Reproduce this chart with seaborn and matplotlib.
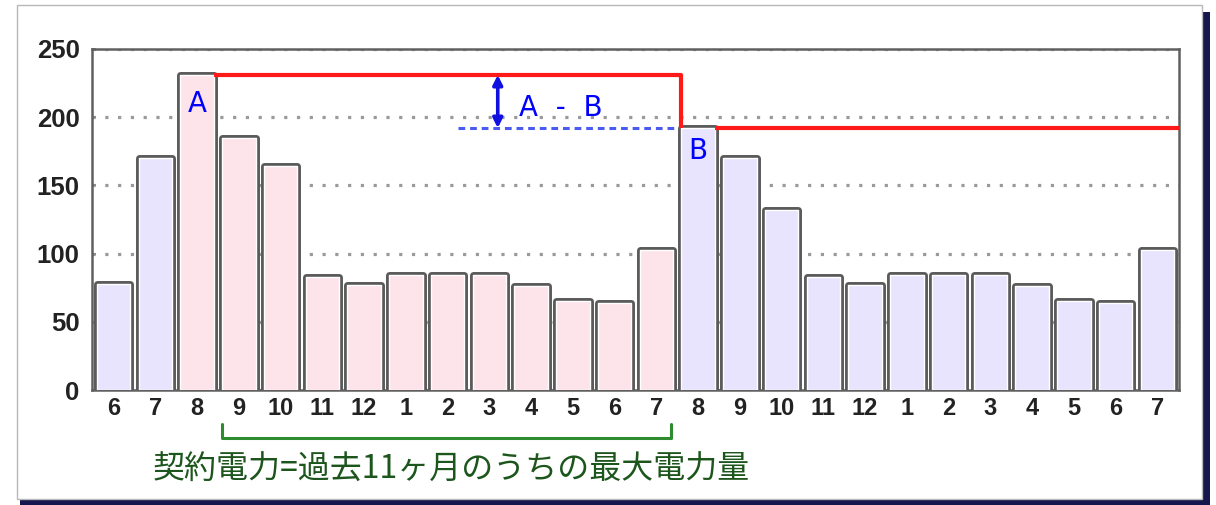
import numpy as np
import pandas as pd
import matplotlib
matplotlib.use("Agg")
import matplotlib.pyplot as plt
import matplotlib.patheffects as pe
from matplotlib.patches import Rectangle
import seaborn as sns

# ---- data ----
months = ["6", "7", "8", "9", "10", "11", "12", "1", "2", "3", "4", "5", "6",
          "7", "8", "9", "10", "11", "12", "1", "2", "3", "4", "5", "6", "7"]
usage = [78, 170, 231, 185, 164, 83, 77, 84, 84, 84, 76, 65, 64,
         103, 192, 170, 132, 83, 77, 84, 84, 84, 76, 65, 64, 103]
period = ["out", "out", "in", "in", "in", "in", "in", "in", "in", "in", "in", "in", "in",
          "in", "out", "out", "out", "out", "out", "out", "out", "out", "out", "out", "out", "out"]
peak_a = 231
peak_b = 192
y_ticks = [0, 50, 100, 150, 200, 250]
caption = "契約電力=過去11ヶ月のうちの最大電力量"

df = pd.DataFrame({"idx": list(range(len(usage))), "usage": usage, "period": period})

sns.set_theme(style="white")
plt.rcParams["font.family"] = ["Liberation Sans", "DejaVu Sans"]

W, H = 1216, 505
fig = plt.figure(figsize=(W / 100, H / 100), dpi=100)
fig.patch.set_facecolor("white")

# outer frame with shadow
fig.patches.append(Rectangle((20 / W, 0 / H), (1210 - 20) / W, (505 - 12) / H,
                             transform=fig.transFigure, facecolor="#16164e",
                             edgecolor="none", zorder=-20))
fig.patches.append(Rectangle((17 / W, (505 - 499) / H), (1202 - 17) / W, (499 - 5) / H,
                             transform=fig.transFigure, facecolor="white",
                             edgecolor="#b8b8b8", lw=1.0, zorder=-10))

ax = fig.add_axes([92 / W, (505 - 390) / H, (1179 - 92) / W, (390 - 49) / H])
ax.set_facecolor("none")

sns.barplot(data=df, x="idx", y="usage", hue="period",
            palette={"in": "#fde3ea", "out": "#e8e4fd"}, saturation=1,
            dodge=False, width=0.8, legend=False, ax=ax,
            edgecolor="white", linewidth=1.0, zorder=3)
for p in ax.patches:
    p.set_path_effects([pe.Stroke(linewidth=5.0, foreground="#5a5a5a"), pe.Normal()])
    p.set_joinstyle("round")

ax.set_xlim(-0.52, 25.52)
ax.set_ylim(0, 250)
ax.set_yticks(y_ticks)
ax.set_xticks(range(len(months)))
ax.set_xticklabels(months)
ax.set_xlabel("")
ax.set_ylabel("")

for lbl in ax.get_xticklabels():
    lbl.set_fontweight("bold"); lbl.set_fontsize(17); lbl.set_color("#222222")
for lbl in ax.get_yticklabels():
    lbl.set_fontweight("bold"); lbl.set_fontsize(18.5); lbl.set_color("#222222")
ax.tick_params(axis="x", length=0, pad=5)
ax.tick_params(axis="y", length=3, direction="in", pad=9, color="#888888", left=True)

ax.yaxis.grid(True, color="#9a9a9a", linestyle=(0, (1, 3)), linewidth=2.3, zorder=0)
ax.set_axisbelow(True)
for s in ax.spines.values():
    s.set_visible(True)
    s.set_color("#606060")
    s.set_linewidth(1.8)

# red contract-power line
ax.plot([2.4, 13.6, 13.6], [peak_a, peak_a, peak_b], color="#ff1a1a", lw=3, zorder=4,
        solid_capstyle="butt")
ax.plot([14.4, 25.52], [peak_b, peak_b], color="#ff1a1a", lw=3, zorder=4,
        solid_capstyle="butt", clip_on=False)
# blue dashed reference line
ax.plot([8.25, 13.55], [peak_b, peak_b], color="#4a5cf0", lw=2.2, ls=(0, (2.2, 1.6)), zorder=4)
# double arrow
ax.annotate("", xy=(9.2, peak_a), xytext=(9.2, peak_b),
            arrowprops=dict(arrowstyle="<|-|>", color="#1010e0", lw=2.6,
                            mutation_scale=14, shrinkA=0, shrinkB=0), zorder=5)
ax.text(10.7, 207, "A  -  B", color="#0000ff", fontsize=20, ha="center", va="center",
        family="DejaVu Sans", zorder=5)
ax.text(2, 210, "A", color="#0000ff", fontsize=20, ha="center", va="center",
        family="DejaVu Sans", zorder=5)
ax.text(14, 175, "B", color="#0000ff", fontsize=20, ha="center", va="center",
        family="DejaVu Sans", zorder=5)

# green bracket below the axis
ax.plot([2.6, 2.6, 13.35, 13.35], [-25, -35, -35, -25], color="#2e8b2e", lw=2.2,
        clip_on=False, zorder=5)
ax.text(8.1, -58.5, caption, color="#1d561d", fontsize=23, ha="center", va="center",
        family=["Noto Sans CJK JP", "DejaVu Sans"], clip_on=False)

fig.savefig("out.png", dpi=100)
